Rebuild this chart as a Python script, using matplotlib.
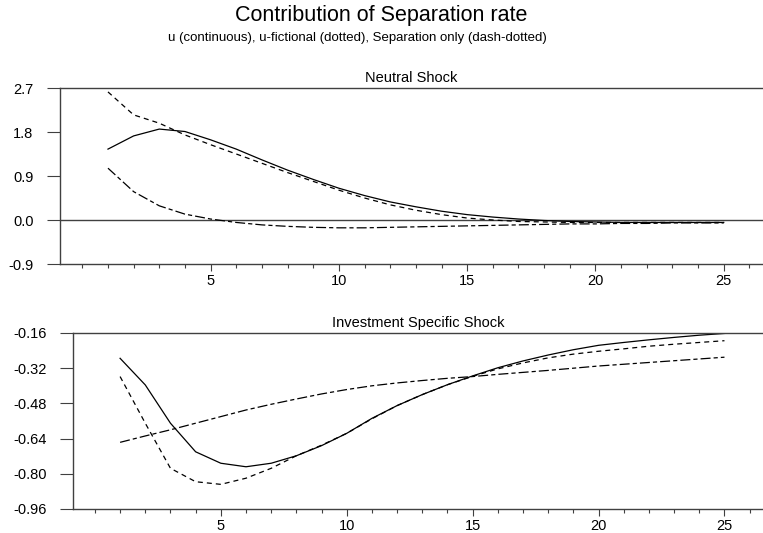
import numpy as np
import matplotlib
matplotlib.use("Agg")
import matplotlib.pyplot as plt
from matplotlib.ticker import MultipleLocator, FixedLocator, FormatStrFormatter

plt.rcParams["font.family"] = ["Liberation Sans", "DejaVu Sans"]
plt.rcParams["lines.scale_dashes"] = False

# ── data (horizon 1..25) ─────────────────────────────────────────────────────
horizon = np.arange(1, 26)

neutral_u = [1.45, 1.72, 1.86, 1.81, 1.64, 1.45, 1.23, 1.02, 0.83, 0.65,
             0.50, 0.37, 0.27, 0.18, 0.11, 0.06, 0.02, -0.01, -0.03, -0.04,
             -0.05, -0.05, -0.05, -0.05, -0.05]
neutral_fict = [2.62, 2.15, 1.98, 1.74, 1.54, 1.35, 1.16, 0.97, 0.79, 0.61,
                0.45, 0.31, 0.20, 0.11, 0.04, 0.00, -0.03, -0.04, -0.05, -0.05,
                -0.05, -0.05, -0.05, -0.05, -0.05]
neutral_sep = [1.06, 0.58, 0.29, 0.12, 0.02, -0.05, -0.10, -0.13, -0.15, -0.16,
               -0.16, -0.15, -0.14, -0.13, -0.12, -0.11, -0.10, -0.09, -0.08, -0.08,
               -0.07, -0.07, -0.06, -0.06, -0.06]

invest_u = [-0.275, -0.396, -0.57, -0.70, -0.752, -0.768, -0.752, -0.718, -0.672, -0.616,
            -0.548, -0.49, -0.44, -0.395, -0.355, -0.318, -0.287, -0.26, -0.236, -0.216,
            -0.203, -0.191, -0.18, -0.17, -0.162]
invest_fict = [-0.358, -0.57, -0.775, -0.836, -0.848, -0.82, -0.775, -0.718, -0.67, -0.616,
               -0.55, -0.49, -0.44, -0.395, -0.357, -0.323, -0.296, -0.273, -0.256, -0.243,
               -0.232, -0.22, -0.211, -0.203, -0.195]
invest_sep = [-0.657, -0.628, -0.60, -0.57, -0.54, -0.51, -0.484, -0.46, -0.437, -0.417,
              -0.40, -0.387, -0.376, -0.366, -0.358, -0.348, -0.339, -0.33, -0.32, -0.31,
              -0.302, -0.294, -0.286, -0.278, -0.27]

neutral_yticks = [-0.9, 0.0, 0.9, 1.8, 2.7]
invest_yticks = [-0.96, -0.80, -0.64, -0.48, -0.32, -0.16]

W, H = 763, 533
SPINE = "0.25"
STYLE_U = dict(color="black", lw=0.9, ls="-")
STYLE_F = dict(color="black", lw=0.9, ls=(0, (3.6, 2.9)))
STYLE_S = dict(color="black", lw=0.9, ls=(0, (7.2, 2.2, 3.0, 2.2)))


def _axes(fig, left, top, bottom):
    # pixel box -> figure fraction
    return fig.add_axes([left / W, 1 - bottom / H, 1 - left / W, (bottom - top) / H])


def _style(ax, title, yticks, fmt):
    ax.set_xlim(-0.87, 26.53)
    ax.set_ylim(yticks[0], yticks[-1])
    ax.set_title(title, fontsize=10.5, pad=4)
    ax.spines["right"].set_visible(False)
    for sp in ("left", "top", "bottom"):
        ax.spines[sp].set_color(SPINE)
        ax.spines[sp].set_linewidth(1.0)
    ax.xaxis.set_major_locator(FixedLocator([5, 10, 15, 20, 25]))
    ax.xaxis.set_minor_locator(MultipleLocator(1))
    ax.yaxis.set_major_locator(FixedLocator(yticks))
    ax.yaxis.set_major_formatter(FormatStrFormatter(fmt))
    ax.tick_params(axis="x", which="major", direction="out", length=5, width=0.8,
                   color=SPINE, labelsize=10.5, pad=2)
    ax.tick_params(axis="x", which="minor", direction="out", length=3, width=0.8, color=SPINE)
    ax.tick_params(axis="y", which="major", direction="out", length=9.5, width=0.8,
                   color=SPINE, labelsize=10.5, pad=9.5)
    ax.yaxis.set_minor_locator(FixedLocator([]))


fig = plt.figure(figsize=(W / 100, H / 100), dpi=100)
fig.text(381 / W, 1 - 15 / H, "Contribution of Separation rate", ha="center", va="center",
         fontsize=15.5)
fig.text(357 / W, 1 - 38 / H,
         "u (continuous), u-fictional (dotted), Separation only (dash-dotted)",
         ha="center", va="center", fontsize=9.5)

ax1 = _axes(fig, 60, 88, 264)
ax1.axhline(0, color=SPINE, lw=1.0)
ax1.plot(horizon, neutral_u, **STYLE_U)
ax1.plot(horizon, neutral_fict, **STYLE_F)
ax1.plot(horizon, neutral_sep, **STYLE_S)
_style(ax1, "Neutral Shock", neutral_yticks, "%.1f")

ax2 = _axes(fig, 73, 333, 509)
ax2.plot(horizon, invest_u, **STYLE_U)
ax2.plot(horizon, invest_fict, **STYLE_F)
ax2.plot(horizon, invest_sep, **STYLE_S)
_style(ax2, "Investment Specific Shock", invest_yticks, "%.2f")

fig.savefig("out.png", dpi=100)
